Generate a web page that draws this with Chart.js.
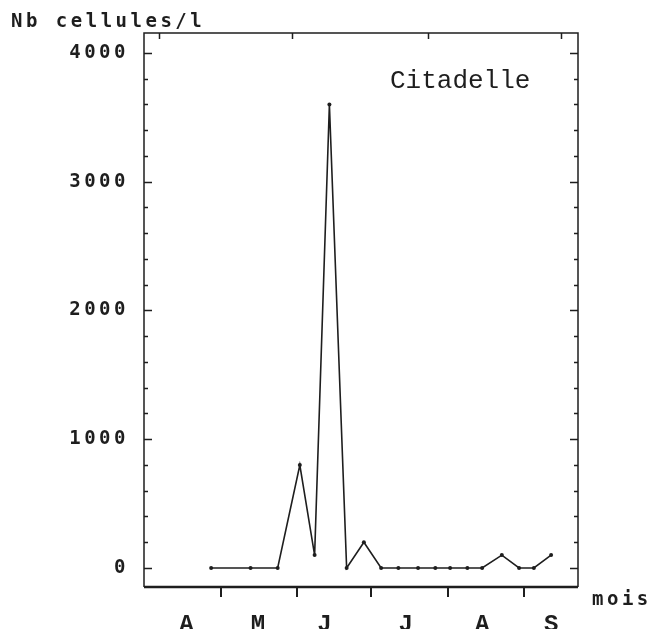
<!DOCTYPE html>
<html>
<head>
<meta charset="utf-8">
<title>Citadelle</title>
<script src="https://cdn.jsdelivr.net/npm/chart.js@4"></script>
<style>
    html, body { margin: 0; padding: 0; background: #fff; }
    canvas { display: block; }
</style>
</head>
<body>
<canvas id="chart-citadelle" width="654" height="629"></canvas>
<script>
// jour de l'annee de chaque prelevement
const sampleDays = [117, 133, 144, 153, 159, 165, 172, 179, 186, 193, 201, 208, 214, 221, 227, 235, 242, 248, 255]
// Nb cellules/l
const cellCounts = [0, 0, 0, 800, 100, 3600, 0, 200, 0, 0, 0, 0, 0, 0, 0, 100, 0, 0, 100]

const monthLabels = ["A", "M", "J", "J", "A", "S"]
const monthLabelDays = [107, 136, 163, 196, 227, 255]
const monthStartDays = [121, 152, 182, 213, 244]
const topTickDays = [96, 150, 205, 259]
const yLabelTicks = [0, 1000, 2000, 3000, 4000]

const INK = "#1e1e1e"
const BOLD_MONO = "bold 19px 'DejaVu Sans Mono'"
const SPACING = "3.5px"

// cadre, petites graduations et textes libres
const framePlugin = {
    id: "frame",
    beforeDraw(chart) {
        chart.ctx.letterSpacing = "0px"
    },
    afterDatasetsDraw(chart) {
        // les etiquettes de l'axe y sont dessinees apres (z: 1)
        chart.ctx.letterSpacing = SPACING
    },
    afterDraw(chart) {
        const ctx = chart.ctx
        const area = chart.chartArea
        const x = chart.scales.x
        const y = chart.scales.y

        ctx.save()
        ctx.strokeStyle = INK
        ctx.lineWidth = 1.5
        ctx.beginPath()
        ctx.moveTo(area.left, area.bottom)
        ctx.lineTo(area.left, area.top)
        ctx.lineTo(area.right, area.top)
        ctx.lineTo(area.right, area.bottom)
        ctx.stroke()

        ctx.lineWidth = 2.5
        ctx.beginPath()
        ctx.moveTo(area.left, area.bottom)
        ctx.lineTo(area.right, area.bottom)
        ctx.stroke()

        // graduations y vers l'interieur, tous les 200
        ctx.lineWidth = 1.5
        ctx.beginPath()
        for (let v = 0; v <= 4000; v += 200) {
            const py = Math.round(y.getPixelForValue(v)) + 0.5
            const len = v % 1000 === 0 ? 8 : 4
            ctx.moveTo(area.left, py)
            ctx.lineTo(area.left + len, py)
            ctx.moveTo(area.right, py)
            ctx.lineTo(area.right - len, py)
        }
        topTickDays.forEach((d) => {
            const px = Math.round(x.getPixelForValue(d)) + 0.5
            ctx.moveTo(px, area.top)
            ctx.lineTo(px, area.top + 6)
        })
        ctx.stroke()

        // debut de chaque mois, vers l'exterieur
        ctx.lineWidth = 2
        ctx.beginPath()
        monthStartDays.forEach((d) => {
            const px = Math.round(x.getPixelForValue(d))
            ctx.moveTo(px, area.bottom)
            ctx.lineTo(px, area.bottom + 10)
        })
        ctx.stroke()

        ctx.fillStyle = INK
        ctx.textBaseline = "alphabetic"
        ctx.textAlign = "left"
        ctx.letterSpacing = SPACING
        ctx.font = BOLD_MONO
        ctx.fillText("Nb cellules/l", 11, 27)
        ctx.fillText("mois", 592, 605)

        ctx.letterSpacing = "0px"
        ctx.font = "26px 'Liberation Mono'"
        ctx.fillText("Citadelle", 390, 88)
        ctx.restore()
    }
}

new Chart(document.getElementById("chart-citadelle"), {
    type: "line",
    data: {
        datasets: [{
            label: "Citadelle",
            data: sampleDays.map((day, i) => ({ x: day, y: cellCounts[i] })),
            borderColor: INK,
            borderWidth: 1.6,
            tension: 0,
            pointRadius: 2,
            pointBackgroundColor: INK,
            pointBorderColor: INK,
            pointBorderWidth: 0
        }]
    },
    options: {
        responsive: false,
        devicePixelRatio: 1,
        animation: false,
        layout: {
            padding: { top: 33, right: 76, left: 0, bottom: 0 }
        },
        plugins: {
            legend: { display: false },
            tooltip: { enabled: false }
        },
        scales: {
            x: {
                type: "linear",
                min: 89.74,
                max: 265.92,
                grid: { display: false, drawTicks: false },
                border: { display: false },
                afterBuildTicks: (scale) => {
                    scale.ticks = monthLabelDays.map((value) => ({ value }))
                },
                afterFit: (scale) => {
                    scale.height = 42
                },
                ticks: {
                    autoSkip: false,
                    maxRotation: 0,
                    padding: 24,
                    color: INK,
                    font: { family: "'Liberation Mono'", size: 24, weight: "bold" },
                    callback: (value, index) => monthLabels[index]
                }
            },
            y: {
                min: -147.6,
                max: 4155.3,
                grid: { display: false, drawTicks: false },
                border: { display: false },
                afterBuildTicks: (scale) => {
                    scale.ticks = yLabelTicks.map((value) => ({ value }))
                },
                afterFit: (scale) => {
                    scale.width = 144
                },
                ticks: {
                    z: 1,
                    padding: 15,
                    color: INK,
                    font: { family: "'DejaVu Sans Mono'", size: 19, weight: "bold" },
                    callback: (value) => String(value)
                }
            }
        }
    },
    plugins: [framePlugin]
})
</script>
</body>
</html>
